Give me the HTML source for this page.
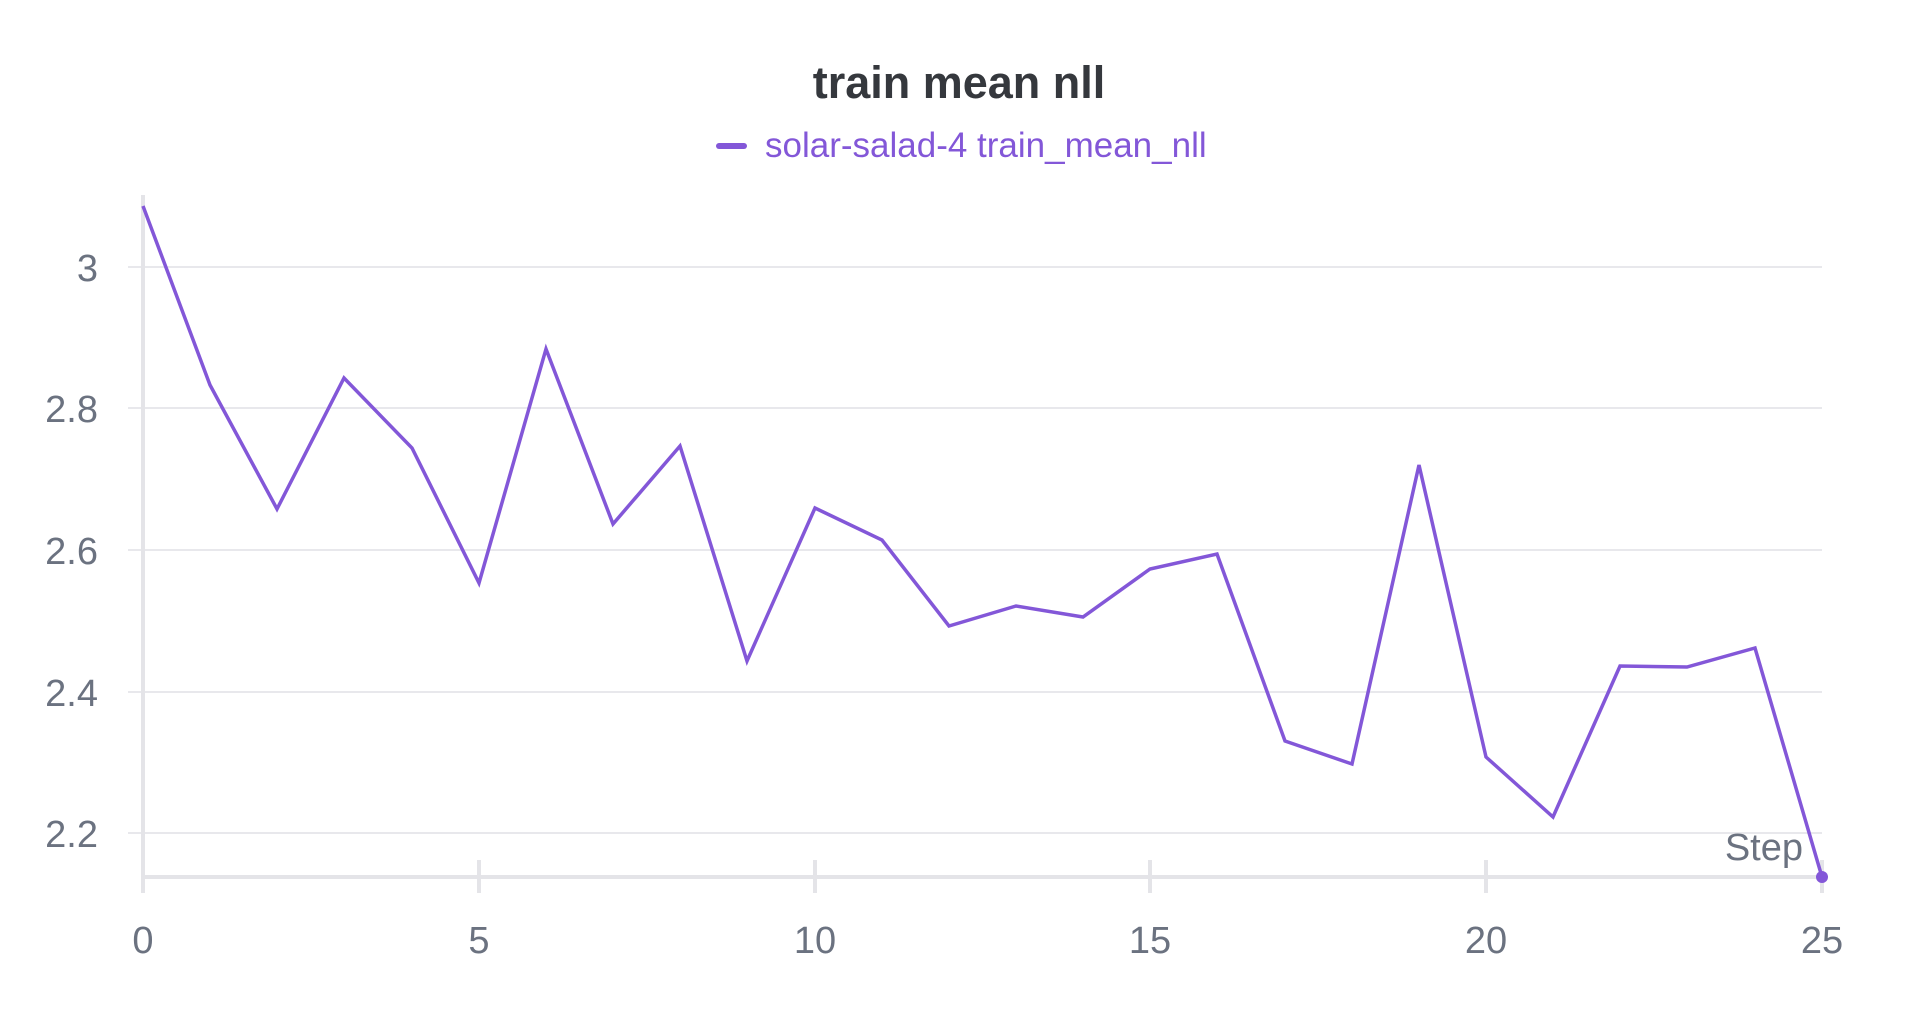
<!DOCTYPE html>
<html><head><meta charset="utf-8"><style>
html,body{margin:0;padding:0;background:#fff;width:1920px;height:1009px;overflow:hidden}
svg text{font-family:"Liberation Sans",sans-serif}
</style></head><body>
<svg width="1920" height="1009" viewBox="0 0 1920 1009">
<text x="959" y="98" text-anchor="middle" font-size="45" font-weight="bold" fill="#35383d">train mean nll</text>
<line x1="719" y1="146" x2="744" y2="146" stroke="#8357d8" stroke-width="6" stroke-linecap="round"/>
<text x="765" y="157" font-size="35" fill="#8357d8">solar-salad-4 train_mean_nll</text>
<g stroke="#e8e8ec" stroke-width="2">
<line x1="128" y1="267" x2="1822" y2="267"/>
<line x1="128" y1="408" x2="1822" y2="408"/>
<line x1="128" y1="550" x2="1822" y2="550"/>
<line x1="128" y1="692" x2="1822" y2="692"/>
<line x1="128" y1="833" x2="1822" y2="833"/>
</g>
<g stroke="#e4e4e8" stroke-width="4">
<line x1="143" y1="195" x2="143" y2="879"/>
<line x1="141" y1="877" x2="1822" y2="877"/>
<line x1="143" y1="877" x2="143" y2="893"/>
<line x1="479" y1="860" x2="479" y2="893"/>
<line x1="815" y1="860" x2="815" y2="893"/>
<line x1="1150" y1="860" x2="1150" y2="893"/>
<line x1="1486" y1="860" x2="1486" y2="893"/>
<line x1="1822" y1="860" x2="1822" y2="893"/>
</g>
<g font-size="38" fill="#6b7280" text-anchor="end">
<text x="98" y="281">3</text>
<text x="98" y="422">2.8</text>
<text x="98" y="564">2.6</text>
<text x="98" y="706">2.4</text>
<text x="98" y="847">2.2</text>
</g>
<g font-size="38" fill="#6b7280" text-anchor="middle">
<text x="143" y="953">0</text>
<text x="479" y="953">5</text>
<text x="815" y="953">10</text>
<text x="1150" y="953">15</text>
<text x="1486" y="953">20</text>
<text x="1822" y="953">25</text>
<text x="1803" y="860" text-anchor="end">Step</text>
</g>
<polyline fill="none" stroke="#8357d8" stroke-width="3.5" stroke-linejoin="miter" points="143,206 210,385 277,509 344,378 412,448 479,583 546,349 613,524 680,446 747,661 815,508 882,540 949,626 1016,606 1083,617 1150,569 1217,554 1285,741 1352,764 1419,465 1486,757 1553,817 1620,666 1687,667 1755,648 1822,877"/>
<circle cx="1822" cy="877" r="6" fill="#8357d8"/>
</svg>
</body></html>
